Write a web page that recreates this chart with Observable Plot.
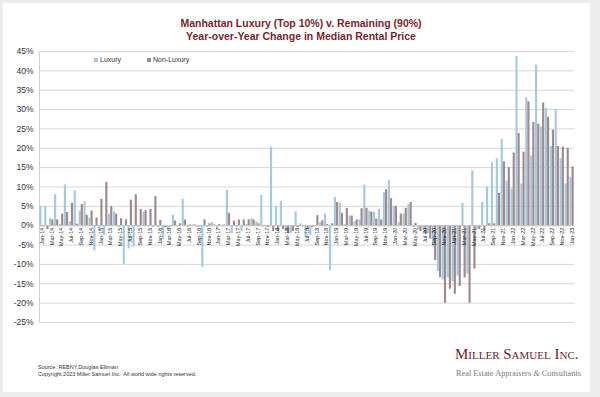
<!DOCTYPE html>
<html><head><meta charset="utf-8">
<script src="https://cdn.jsdelivr.net/npm/d3@7"></script>
<script src="https://cdn.jsdelivr.net/npm/@observablehq/plot@0.6"></script>
<style>
html,body{margin:0;padding:0;}
body{width:600px;height:397px;background:#ececec;position:relative;overflow:hidden;font-family:"Liberation Sans",Arial,sans-serif;}
#card{position:absolute;left:3px;top:3px;width:587px;height:389px;background:#fff;}
#chart{position:absolute;left:0;top:0;}
.title{position:absolute;left:0;width:602px;text-align:center;color:#7a1f2e;font-weight:bold;font-size:10.5px;line-height:12px;white-space:nowrap;}
.legend{position:absolute;top:56px;font-size:7px;color:#333;white-space:nowrap;}
.legend span.sw{display:inline-block;width:4px;height:4px;margin-right:2px;vertical-align:0px;}
.foot{position:absolute;left:38px;font-size:5.5px;color:#333;white-space:nowrap;}
.logo{position:absolute;font-family:"Liberation Serif","DejaVu Serif",serif;color:#6e1d2b;font-variant:small-caps;font-size:15px;white-space:nowrap;}
.logo2{position:absolute;font-family:"Liberation Serif","DejaVu Serif",serif;color:#7a7a7a;font-size:8.3px;white-space:nowrap;}
</style>
</head><body>
<div id="card"></div>
<div id="chart"></div>
<div class="title" style="top:17px">Manhattan Luxury (Top 10%) v. Remaining (90%)</div>
<div class="title" style="top:30px">Year-over-Year Change in Median Rental Price</div>
<div class="legend" style="left:94px"><span class="sw" style="background:#a7c9dd"></span>Luxury</div>
<div class="legend" style="left:147px"><span class="sw" style="background:#9f8a8e"></span>Non-Luxury</div>
<div class="foot" style="top:364px">Source: REBNY,Douglas Elliman</div>
<div class="foot" style="top:371px">Copyright 2023 Miller Samuel Inc.&nbsp; All world wide rights reserved.</div>
<div class="logo" style="left:455px;top:346px">Miller Samuel Inc.</div>
<div class="logo2" style="left:456px;top:369px">Real Estate Appraisers <i>&amp;</i> Consultants</div>
<script>
const monthNames = ["Jan","Feb","Mar","Apr","May","Jun","Jul","Aug","Sep","Oct","Nov","Dec"];
const years = ["14","15","16","17","18","19","20","21","22","23"];
const months = [];
for (const y of years) for (const m of monthNames) { if (months.length < 109) months.push(m + "-" + y); }

const luxury = [
 5.0, 5.0, 1.8, 8.0, 0.3, 10.5, 1.0, 9.0, 3.8, 6.2, 2.0, -6.5,
 -1.5, -2.5, 3.0, 3.6, -0.5, -10.0, -6.0, -5.5, -0.5, 3.5, -0.3, -0.5,
 -0.5, -3.5, -1.0, 2.7, -0.3, 6.8, -0.5, 0.2, -0.5, -10.8, -0.5, 0.8,
 -1.0, -0.3, 9.2, -2.0, -0.5, -1.5, 0.3, 1.8, 1.0, 7.8, -0.3, 20.3,
 5.0, 6.3, -1.5, -2.0, 3.6, 0.5, -3.0, -2.5, -0.3, 0.8, 3.0, -11.6,
 7.3, 5.8, 0.3, 2.5, 1.0, 1.5, 10.5, 3.8, 3.5, 4.2, 8.5, 11.7,
 4.9, 0.8, 3.0, 5.5, -0.5, -1.2, -1.0, -2.0, -5.5, -11.8, -14.0, -13.5,
 -14.5, -13.0, 5.8, -12.5, 14.2, -1.0, 6.0, 10.0, 16.3, 17.3, 22.3, 11.5,
 9.5, 43.7, 10.8, 33.0, 18.0, 41.5, 25.5, 30.3, 20.5, 30.0, 17.3, 10.8,
 12.5
];
const nonLuxury = [
 -0.3, -1.0, 1.5, 1.5, 3.0, 3.4, 5.8, 0.4, 5.5, 2.7, 3.8, 2.0,
 6.8, 11.2, 5.0, 3.0, 1.8, 1.5, 6.6, 8.0, 4.2, 3.9, 4.2, 7.5,
 1.4, -0.5, -0.3, 1.2, 0.5, 1.5, 0.2, 0.2, -0.3, 1.5, 0.5, 0.2,
 0.3, 0.2, 3.2, 1.2, 1.5, 1.5, 1.5, 1.5, 0.5, -0.3, -0.5, -1.5,
 -1.5, -1.0, -2.0, -1.5, -0.5, -0.3, -1.0, -0.5, 2.6, 1.3, 0.3, 0.5,
 6.0, 3.2, 4.5, 2.5, 1.5, 4.4, 4.5, 3.5, 1.7, 1.5, 9.3, 7.0,
 5.0, 3.0, 4.5, 6.0, 0.6, -1.5, -2.2, -3.5, -9.0, -13.4, -20.0, -16.4,
 -17.7, -15.7, -13.5, -20.0, -11.2, -1.0, -1.5, 0.5, 0.5, 8.4, 16.5, 15.0,
 18.8, 23.8, 19.0, 32.0, 26.7, 26.2, 31.7, 28.0, 24.7, 20.5, 20.3, 20.0,
 15.2
];
const yTicks = [-25, -20, -15, -10, -5, 0, 5, 10, 15, 20, 25, 30, 35, 40, 45];
const tickLabels = months.filter((m, i) => i % 2 === 0);

const luxRows = months.map((m, i) => ({month: m, value: luxury[i]}));
const nonRows = months.map((m, i) => ({month: m, value: nonLuxury[i]}));

const chart = Plot.plot({
  width: 600, height: 397,
  marginLeft: 39, marginRight: 26, marginTop: 51, marginBottom: 75,
  style: {background: "transparent", fontFamily: "'Liberation Sans', Arial, sans-serif", color: "#333"},
  x: {type: "band", domain: months, padding: 0, axis: null},
  y: {domain: [-25, 45], axis: null},
  marks: [
    Plot.gridY(yTicks, {stroke: "#d6d6d6", strokeOpacity: 1}),
    Plot.axisY(yTicks, {tickSize: 0, tickPadding: 6, fontSize: 8.5, tickFormat: d => d + "%", label: null}),
    Plot.ruleX([months[0]], {dx: -2.45, y1: -25, y2: 45, stroke: "#d0d0d0"}),
    Plot.barY(luxRows, {x: "month", y: "value", fill: "#a7c9dd", insetLeft: 0.3, insetRight: 2.45}),
    Plot.barY(nonRows, {x: "month", y: "value", fill: "#9f8a8e", insetLeft: 2.45, insetRight: 0.3}),
    Plot.ruleY([0], {stroke: "#c4c4c4"}),
    Plot.text(tickLabels, {x: d => d, y: 0, text: d => d, rotate: -90, textAnchor: "end", dy: 2, fontSize: 5.5, fill: "#222"})
  ]
});
document.getElementById("chart").appendChild(chart);
</script>
</body></html>
